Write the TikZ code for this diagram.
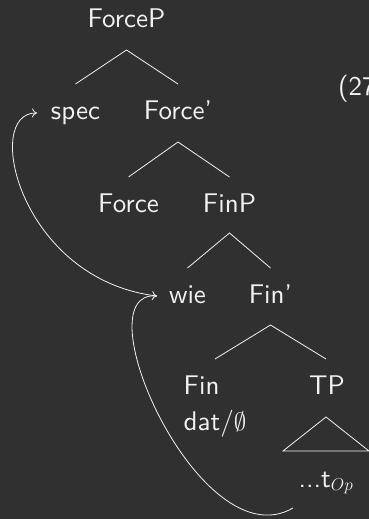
\documentclass[tikz,border=0pt]{standalone}
\usepackage{fontspec}
\setmainfont{lmsans10-regular.otf}
\usetikzlibrary{arrows.meta}
\definecolor{bg}{HTML}{303030}
\definecolor{fg}{HTML}{F2F2F2}
\begin{document}
\begin{tikzpicture}[x=1pt,y=-1pt,
  lbl/.style={text=fg,inner sep=0pt,anchor=base,font=\fontsize{27}{36}\selectfont},
  branch/.style={draw=fg,line width=0.8pt},
  move/.style={draw=fg,line width=0.8pt,-{To[length=5pt,width=9pt]}}]
  % canvas
  \fill[bg] (0,0) rectangle (369,519);
  \clip (0,0) rectangle (369,519);
  \useasboundingbox (0,0) rectangle (369,519);

  % labels of the tree
  \node[lbl] (forcep) at (126.5,28) {ForceP};
  \node[lbl] (spec)   at (75.5,119) {spec};
  \node[lbl] (forcebar) at (178,119) {Force'};
  \node[lbl,anchor=base west] (exnum) at (338,95) {(27)};
  \node[lbl] (force)  at (128.5,212) {Force};
  \node[lbl] (finp)   at (229.5,212) {FinP};
  \node[lbl] (wie)    at (187.5,303) {wie};
  \node[lbl] (finbar) at (270.5,303) {Fin'};
  \node[lbl] (fin)    at (215,394)
    {\begin{tabular}[t]{@{}l@{}}Fin\\dat/$\emptyset$\end{tabular}};
  \node[lbl] (tp)     at (327,394) {TP};
  \node[lbl] (trace)  at (326,487) {...t$_{Op}$};

  % branches
  \draw[branch] ([yshift=35pt]spec.base) -- ([yshift=-22pt]forcep.base)
                -- ([yshift=35pt]forcebar.base);
  \draw[branch] ([yshift=35pt]force.base) -- ([yshift=-23pt]forcebar.base)
                -- ([yshift=35pt]finp.base);
  \draw[branch] ([yshift=35pt]wie.base) -- ([yshift=-21pt]finp.base)
                -- ([yshift=35pt]finbar.base);
  \draw[branch] ([yshift=35pt]fin.base) -- ([yshift=-22pt]finbar.base)
                -- ([xshift=-1pt,yshift=35pt]tp.base);
  % triangle over the TP
  \draw[branch] ([shift={(-1,23)}]tp.base) -- ([shift={(-44,57)}]tp.base)
                -- ([shift={(42,57)}]tp.base) -- cycle;

  % movement arrows
  \draw[move] ([shift={(-33,21)}]trace.base)
     .. controls (200,562) and (80,290) .. ([shift={(-30.5,-7)}]wie.base);
  \draw[move] ([shift={(-30.5,-7)}]wie.base)
     .. controls (20,280) and (-18,112) .. ([shift={(-38.5,-6)}]spec.base);
\end{tikzpicture}
\end{document}
